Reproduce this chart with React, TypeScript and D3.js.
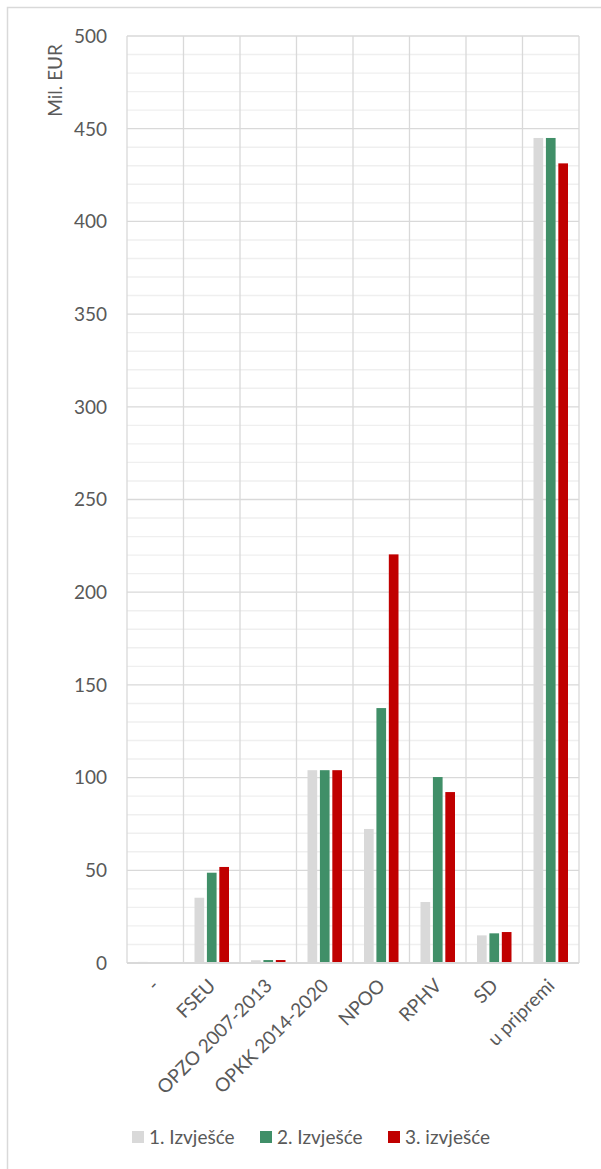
import React from "react";
import * as d3 from "d3";

const categories = ["-", "FSEU", "OPZO 2007-2013", "OPKK 2014-2020", "NPOO", "RPHV", "SD", "u pripremi"];
const seriesNames = ["1. Izvješće", "2. Izvješće", "3. izvješće"];
const izvjesce1 = [0.6, 35.2, 1.5, 104, 72.3, 32.9, 14.9, 445];
const izvjesce2 = [0, 48.7, 1.6, 104, 137.5, 100.3, 16.0, 445];
const izvjesce3 = [0, 51.8, 1.6, 104, 220.4, 92.2, 16.7, 431.3];
const seriesColors = ["#D9D9D9", "#408F68", "#C00000"];
const yTicks = [0, 50, 100, 150, 200, 250, 300, 350, 400, 450, 500];
const yTitle = "Mil. EUR";

const W = 601;
const H = 1169;
const plot = { left: 127, right: 579, top: 36, bottom: 963 };
const font = "Lato, 'Open Sans', sans-serif";
const textColor = "#595959";
const fs = 19;

export default function App() {
  const seriesValues = [izvjesce1, izvjesce2, izvjesce3];
  const y = d3.scaleLinear().domain([0, 500]).range([plot.bottom, plot.top]);
  const x0 = d3.scaleBand<string>().domain(categories).range([plot.left, plot.right]).paddingInner(0).paddingOuter(0);
  const bw = x0.bandwidth();
  const x1 = d3.scaleBand<string>().domain(seriesNames).range([11, bw - 11]).paddingInner(0.22).paddingOuter(0);
  const minorTicks = d3.range(0, 501, 10).filter((v) => v % 50 !== 0);

  return (
    <svg width={W} height={H} style={{ position: "absolute", left: 0, top: 0, display: "block" }} fontFamily={font}>
      <rect x={0} y={0} width={W} height={H} fill="#fff" />
      <rect x={7.5} y={7.5} width={W + 20} height={H + 20} fill="none" stroke="#D9D9D9" strokeWidth={1.5} />

      {minorTicks.map((t) => (
        <line key={"m" + t} x1={plot.left} x2={plot.right} y1={y(t)} y2={y(t)} stroke="#EFEFEF" strokeWidth={1.4} />
      ))}
      {yTicks.map((t) => (
        <line key={"M" + t} x1={plot.left} x2={plot.right} y1={y(t)} y2={y(t)} stroke="#D9D9D9" strokeWidth={1.3} />
      ))}
      {categories.map((c) => (
        <line key={"v" + c} x1={x0(c)!} x2={x0(c)!} y1={plot.top} y2={plot.bottom} stroke="#D9D9D9" strokeWidth={1.3} />
      ))}
      <line x1={plot.right} x2={plot.right} y1={plot.top} y2={plot.bottom} stroke="#D9D9D9" strokeWidth={1.3} />

      {categories.map((c, i) => (
        <g key={"g" + c} transform={`translate(${x0(c)},0)`}>
          {seriesNames.map((s, k) => {
            const v = seriesValues[k][i];
            if (v <= 0) return null;
            return (
              <rect
                key={s}
                x={x1(s)!}
                y={y(v)}
                width={x1.bandwidth()}
                height={y(0) - y(v)}
                fill={seriesColors[k]}
              />
            );
          })}
        </g>
      ))}

      <line x1={plot.left} x2={plot.right} y1={plot.bottom} y2={plot.bottom} stroke="#D9D9D9" strokeWidth={1.8} />

      {yTicks.map((t) => (
        <text key={"t" + t} x={107} y={y(t)} dy="0.36em" textAnchor="end" fontSize={fs} fill={textColor}>
          {t}
        </text>
      ))}

      <text transform="translate(62,44) rotate(-90)" textAnchor="end" fontSize={fs} fill={textColor}>
        {yTitle}
      </text>

      {categories.map((c) => {
        const cx = x0(c)! + bw / 2 + 5;
        return (
          <text key={"x" + c} transform={`translate(${cx},987) rotate(-45)`} textAnchor="end" fontSize={fs} fill={textColor}>
            {c}
          </text>
        );
      })}

      {seriesNames.map((s, k) => {
        const lx = [132, 260, 388][k];
        return (
          <g key={"l" + s}>
            <rect x={lx} y={1131} width={12} height={12} fill={seriesColors[k]} />
            <text x={lx + 17} y={1144} fontSize={fs} fill={textColor}>
              {s}
            </text>
          </g>
        );
      })}
    </svg>
  );
}
